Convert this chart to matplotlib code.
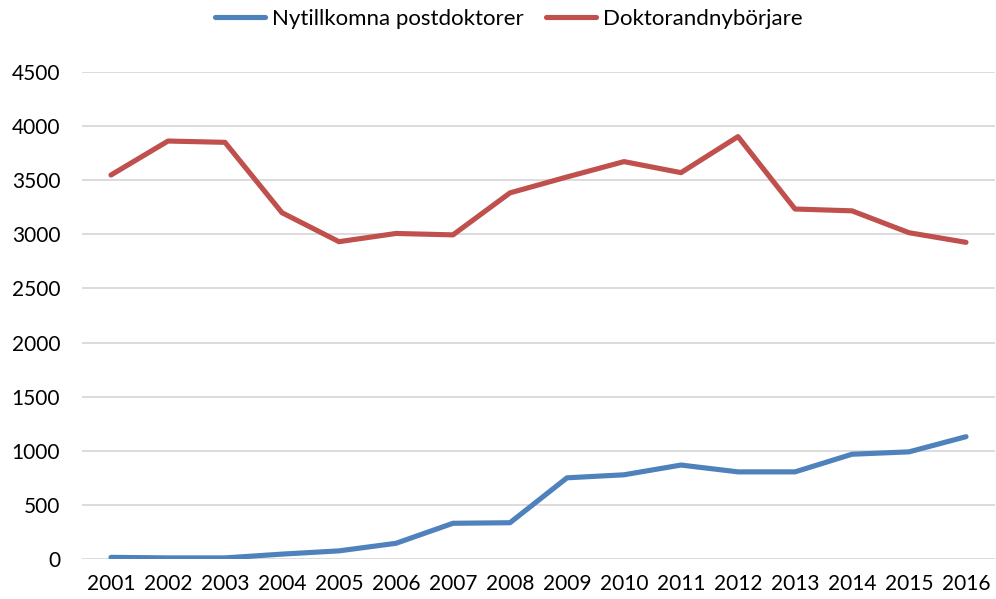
import matplotlib
matplotlib.use("Agg")
import matplotlib.pyplot as plt

plt.rcParams['font.family'] = ['Lato', 'DejaVu Sans']

years = ['2001', '2002', '2003', '2004', '2005', '2006', '2007', '2008',
         '2009', '2010', '2011', '2012', '2013', '2014', '2015', '2016']
postdoktorer = [15, 10, 10, 45, 75, 145, 330, 335,
                750, 778, 868, 805, 805, 968, 990, 1130]
doktorand = [3548, 3862, 3850, 3200, 2932, 3008, 2995, 3383,
             3530, 3672, 3570, 3903, 3234, 3217, 3015, 2926]

fig = plt.figure(figsize=(9.96, 5.99), dpi=100)
ax = fig.add_axes([0.0828, 0.0668, 0.9157, 0.813])

x = range(len(years))
ax.plot(x, postdoktorer, color='#4F81BD', lw=3.7, solid_capstyle='round',
        label='Nytillkomna postdoktorer')
ax.plot(x, doktorand, color='#C0504D', lw=3.7, solid_capstyle='round',
        label='Doktorandnybörjare')

ax.set_xlim(-0.5, len(years) - 0.5)
ax.set_ylim(0, 4500)
ax.set_yticks(range(0, 4501, 500))
ax.set_xticks(list(x))
ax.set_xticklabels(years)
ax.grid(axis='y', color='#D9D9D9', lw=1.3)
ax.set_axisbelow(True)
for s in ax.spines.values():
    s.set_visible(False)
ax.tick_params(length=0, labelsize=15, colors='black')
ax.tick_params(axis='y', pad=16)
ax.tick_params(axis='x', pad=11)

fig.legend(loc='center', bbox_to_anchor=(0.511, 0.969), ncol=2,
           frameon=False, fontsize=16, handlelength=2.25, handletextpad=0.3,
           columnspacing=1.0)

fig.savefig('out.png', dpi=100)
